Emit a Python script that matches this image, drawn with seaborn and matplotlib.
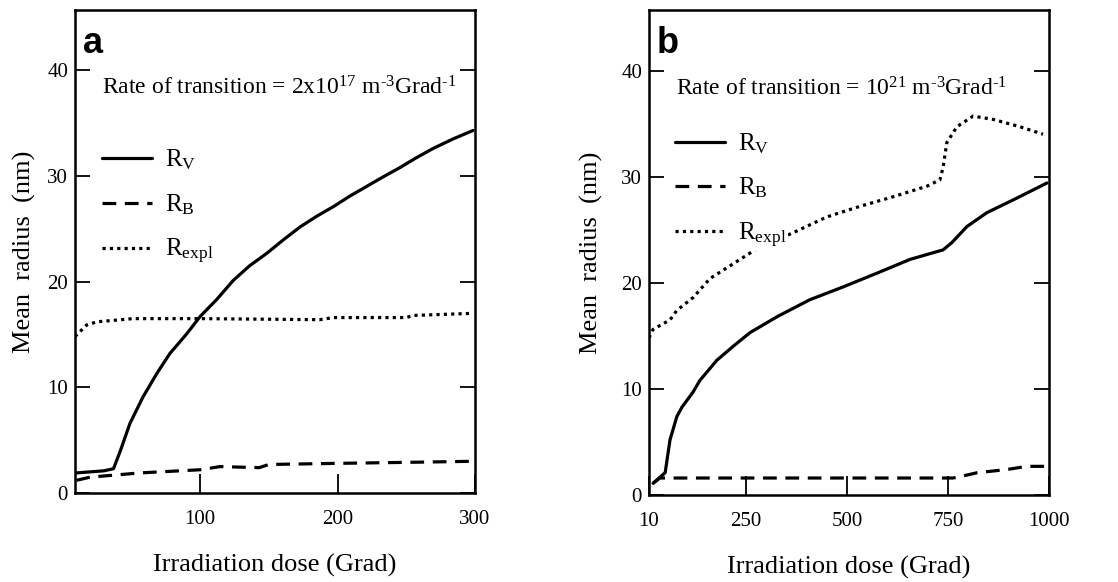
import numpy as np
import pandas as pd
import matplotlib
matplotlib.use("Agg")
import matplotlib.pyplot as plt
import seaborn as sns

# ---- Panel a data (dose in Grad, radius in nm) ----
a_rv_x = [10, 20, 30, 37, 42, 49, 58.5, 68.7, 78, 90.5, 100, 112, 124, 136, 148.7, 161, 173, 185, 197, 209, 221, 233, 245.5, 257, 269.5, 284, 298.5]
a_rv_y = [1.9, 2.0, 2.1, 2.3, 4.0, 6.6, 9.1, 11.35, 13.2, 15.1, 16.7, 18.3, 20.1, 21.5, 22.7, 24.0, 25.2, 26.2, 27.1, 28.1, 29.0, 29.9, 30.8, 31.7, 32.6, 33.5, 34.3]
a_rb_x = [10, 20, 56, 100, 105, 114.5, 143, 150, 197, 250, 298]
a_rb_y = [1.2, 1.5, 1.9, 2.2, 2.3, 2.5, 2.4, 2.7, 2.8, 2.9, 3.0]
a_re_x = [9, 17.5, 25, 34, 51, 100, 187, 197, 250, 255, 298]
a_re_y = [14.8, 15.9, 16.2, 16.3, 16.5, 16.5, 16.4, 16.6, 16.6, 16.8, 17.0]

# ---- Panel b data ----
b_rv_x = [20, 50, 62, 79, 92, 119, 136, 178, 218, 260, 327, 408, 490, 574, 656, 738, 760, 797, 846, 911, 995]
b_rv_y = [1.1, 2.1, 5.2, 7.4, 8.3, 9.7, 10.8, 12.7, 14.0, 15.3, 16.8, 18.4, 19.6, 20.9, 22.2, 23.1, 23.8, 25.3, 26.6, 27.8, 29.4]
b_rb_x = [20, 37, 300, 500, 762, 777, 822, 896, 945, 990]
b_rb_y = [1.1, 1.6, 1.6, 1.6, 1.6, 1.7, 2.1, 2.4, 2.7, 2.7]
b_re_x = [10, 20, 62, 79, 119, 161, 285, 366, 450, 532, 614, 698, 730, 738, 747, 772, 812, 861, 928, 985]
b_re_y = [14.8, 15.6, 16.5, 17.4, 18.6, 20.4, 23.4, 24.7, 26.2, 27.2, 28.1, 29.1, 29.7, 30.9, 33.2, 34.7, 35.7, 35.4, 34.7, 34.0]

labels = [r"R$_{\mathrm{V}}$", r"R$_{\mathrm{B}}$", r"R$_{\mathrm{expl}}$"]
a_xticks = [100, 200, 300]
b_xticks = [10, 250, 500, 750, 1000]
yticks = [0, 10, 20, 30, 40]

sns.set_theme(style="ticks")
plt.rcParams["font.family"] = ["Liberation Serif", "DejaVu Serif"]
plt.rcParams["mathtext.fontset"] = "custom"
plt.rcParams["mathtext.rm"] = "Liberation Serif"
plt.rcParams["mathtext.it"] = "Liberation Serif:italic"
plt.rcParams["mathtext.bf"] = "Liberation Serif:bold"
plt.rcParams["text.color"] = "black"
plt.rcParams["axes.labelcolor"] = "black"

fig = plt.figure(figsize=(11.18, 5.82), dpi=100)
ax_a = fig.add_axes([0.0671, 0.1529, 0.3578, 0.8299])
ax_b = fig.add_axes([0.5805, 0.1495, 0.3578, 0.8333])

styles = [dict(linestyle="-"), dict(linestyle=(0, (4.3, 2.7))), dict(linestyle=(0, (1.0, 1.3)))]


def draw(ax, series, xlim, xticks, note, letter, leg_anchor, ypad):
    for (xs, ys), lab, st in zip(series, labels, styles):
        df = pd.DataFrame({"x": xs, "y": ys})
        sns.lineplot(data=df, x="x", y="y", ax=ax, color="black", lw=2.3,
                     label=lab, estimator=None, sort=False, **st)
    ax.set_xlim(*xlim)
    ax.set_ylim(0, 45.7)
    ax.set_xticks(xticks)
    ax.set_yticks(yticks)
    ax.tick_params(axis="y", direction="in", length=11, width=1.3, left=True, right=True,
                   labelsize=15, pad=5, colors="black")
    ax.tick_params(axis="x", direction="in", length=14, width=1.3, top=False,
                   labelsize=15, pad=12, colors="black")
    for s in ax.spines.values():
        s.set_visible(True)
        s.set_linewidth(1.8)
        s.set_color("black")
    ax.set_xlabel("Irradiation dose (Grad)", fontsize=19, labelpad=18)
    ax.set_ylabel("Mean  radius  (nm)", fontsize=19, labelpad=ypad)
    ax.text(0.0675, 0.838, note, transform=ax.transAxes, fontsize=17, va="center", ha="left")
    ax.text(0.02, 0.93, letter, transform=ax.transAxes, fontsize=26, fontweight="bold",
            family="Liberation Sans", va="center", ha="left", color="black")
    leg = ax.legend(loc="upper left", bbox_to_anchor=leg_anchor, frameon=False,
                    fontsize=18, handlelength=2.0, handletextpad=0.5, labelspacing=0.8,
                    borderpad=0, borderaxespad=0)
    for t in leg.get_texts():
        t.set_bbox(dict(facecolor="white", edgecolor="none", pad=1))


draw(ax_a, [(a_rv_x, a_rv_y), (a_rb_x, a_rb_y), (a_re_x, a_re_y)], (9, 300), a_xticks,
     "Rate of transition = 2x10$^{17}$ m$^{\u2010 3}$Grad$^{\u2010 1}$", "a", (0.0675, 0.715), 8)
draw(ax_b, [(b_rv_x, b_rv_y), (b_rb_x, b_rb_y), (b_re_x, b_re_y)], (10, 1000), b_xticks,
     "Rate of transition = 10$^{21}$ m$^{\u2010 3}$Grad$^{\u2010 1}$", "b", (0.065, 0.75), 13)

fig.savefig("out.png", dpi=100)
